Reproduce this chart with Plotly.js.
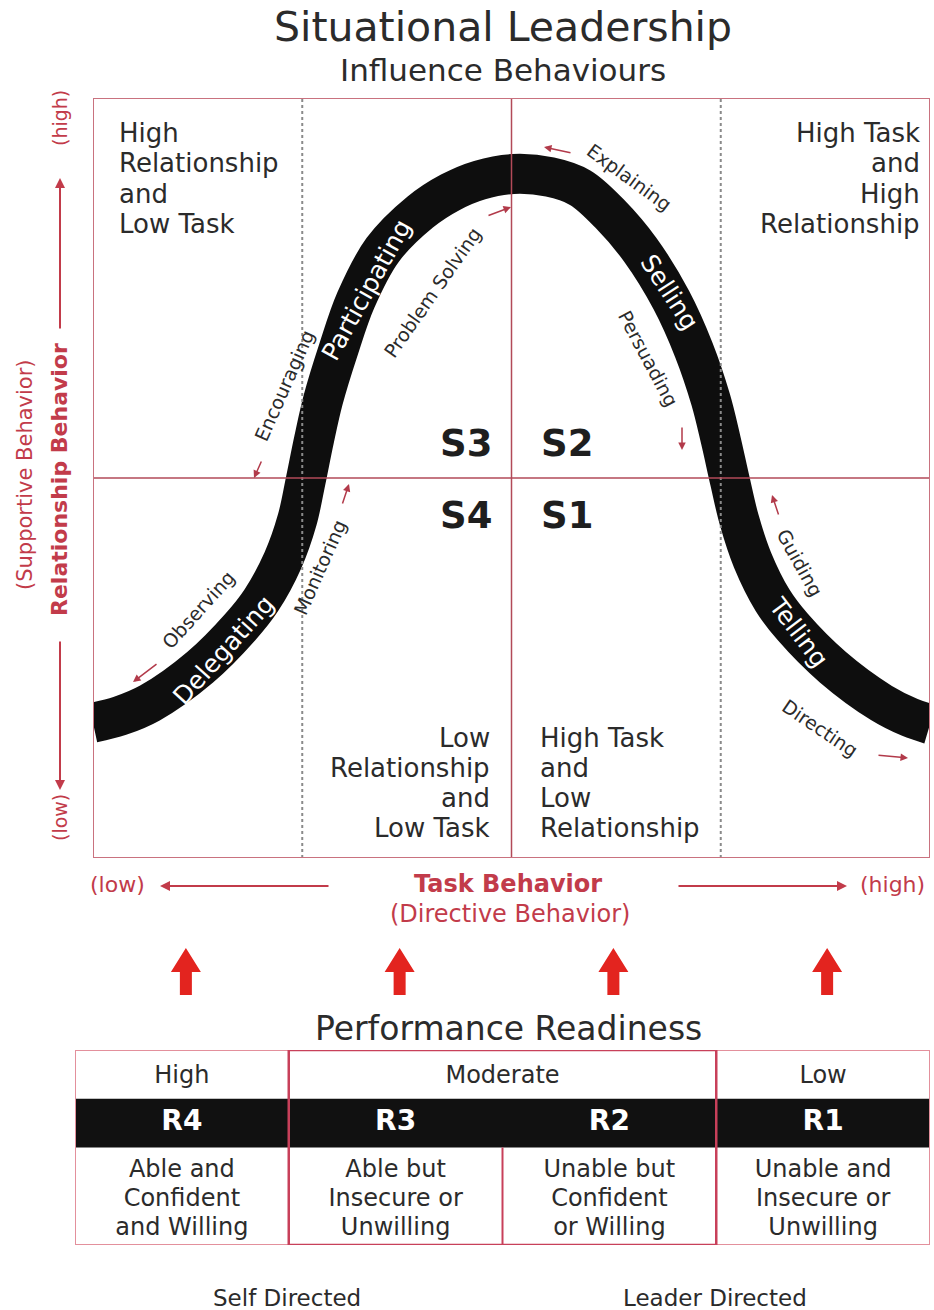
<!DOCTYPE html>
<html>
<head>
<meta charset="utf-8">
<script src="https://cdn.plot.ly/plotly-3.0.1.min.js"></script>
<style>html,body{margin:0;padding:0;background:#fff;}#chart{width:934px;height:1310px;}</style>
</head>
<body>
<div id="chart"></div>
<script>
// ---------------- DATA ----------------
// Curve of leadership style: task behavior (x, 0-100) vs relationship behavior (y, 0-100)
const taskBehavior = [0,3.2,6.8,12.8,17.6,20.1,22.7,24.4,25.4,26.4,27.5,29.3,31.4,34.6,39.1,42.7,46.2,50.2,
  54.6,58.2,61.8,65.4,69.1,71.8,73.8,75.0,76.1,77.2,78.8,81.2,83.6,88.4,94.2,97.6,100];
const relationshipBehavior = [17.8,18.7,20.4,25.1,30.4,33.9,39.2,44.5,49.6,55.0,60.3,66.8,73.4,80.0,85.0,87.6,89.2,90.0,
  89.6,88.2,84.7,80.0,73.4,66.8,60.3,55.0,49.6,44.5,39.2,33.9,30.4,25.1,20.4,18.5,17.6];

const styleCodes = ['S3','S2','S4','S1'];
const styleNames = ['Participating','Selling','Delegating','Telling'];
const behaviours = ['Encouraging','Problem Solving','Explaining','Persuading','Observing','Monitoring','Guiding','Directing'];

const quadTopLeft = ['High','Relationship','and','Low Task'];
const quadTopRight = ['High Task','and','High','Relationship'];
const quadBottomLeft = ['Low','Relationship','and','Low Task'];
const quadBottomRight = ['High Task','and','Low','Relationship'];

const readinessCodes = ['R4','R3','R2','R1'];
const readinessLevels = ['High','Moderate','Moderate','Low'];
const descLine1 = ['Able and','Able but','Unable but','Unable and'];
const descLine2 = ['Confident','Insecure or','Confident','Insecure or'];
const descLine3 = ['and Willing','Unwilling','or Willing','Unwilling'];
const directionLabels = ['Self Directed','Leader Directed'];

// ---------------- HELPERS ----------------
const W = 934, H = 1310;
const DARK = '#2b2b2b', RED = '#c23b4a', ARROWRED = '#b23a4a';
const FONT = 'DejaVu Sans, Arial, sans-serif';
function T(text, x, y, o) {
  o = o || {};
  return {text: o.bold ? '<b>' + text + '</b>' : text, x: x / W, y: 1 - y / H, xref: 'paper', yref: 'paper',
    showarrow: false, xanchor: o.xa || 'center', yanchor: 'middle', textangle: o.ang || 0,
    font: {family: FONT, size: o.size || 20, color: o.color || DARK}};
}
function A(tx, ty, sx, sy, color, w) {
  return {text: '', x: tx / W, y: 1 - ty / H, xref: 'paper', yref: 'paper', showarrow: true,
    ax: sx - tx, ay: sy - ty, arrowhead: 2, arrowsize: 1, arrowwidth: w || 1.5, arrowcolor: color || ARROWRED};
}

const annotations = [];
const shapes = [];

// Titles
annotations.push(T('Situational Leadership', 503, 27, {size: 41}));
annotations.push(T('Influence Behaviours', 503, 70, {size: 31}));

// Quadrant descriptions
const lineY1 = [133, 163, 194, 224], lineY2 = [738, 768, 798, 828];
quadTopLeft.forEach((t, i) => annotations.push(T(t, 117, lineY1[i], {size: 26, xa: 'left'})));
quadTopRight.forEach((t, i) => annotations.push(T(t, 922, lineY1[i], {size: 26, xa: 'right'})));
quadBottomLeft.forEach((t, i) => annotations.push(T(t, 492, lineY2[i], {size: 26, xa: 'right'})));
quadBottomRight.forEach((t, i) => annotations.push(T(t, 538, lineY2[i], {size: 26, xa: 'left'})));

// S codes
annotations.push(T(styleCodes[0], 494, 443, {size: 37, bold: true, xa: 'right', color: '#1e1e1e'}));
annotations.push(T(styleCodes[1], 539, 443, {size: 37, bold: true, xa: 'left', color: '#1e1e1e'}));
annotations.push(T(styleCodes[2], 494, 515, {size: 37, bold: true, xa: 'right', color: '#1e1e1e'}));
annotations.push(T(styleCodes[3], 539, 515, {size: 37, bold: true, xa: 'left', color: '#1e1e1e'}));

// Style names on the band
annotations.push(T(styleNames[0], 366, 290, {size: 25, ang: -61, color: '#ffffff'}));
annotations.push(T(styleNames[1], 670, 292, {size: 25, ang: 57, color: '#ffffff'}));
annotations.push(T(styleNames[2], 223, 650, {size: 25, ang: -48, color: '#ffffff'}));
annotations.push(T(styleNames[3], 799, 632, {size: 25, ang: 53, color: '#ffffff'}));

// Behaviour labels
annotations.push(T(behaviours[0], 284, 386, {size: 19, ang: -66}));
annotations.push(T(behaviours[1], 432, 293, {size: 19, ang: -55}));
annotations.push(T(behaviours[2], 629, 177, {size: 19, ang: 36}));
annotations.push(T(behaviours[3], 648, 358, {size: 19, ang: 62}));
annotations.push(T(behaviours[4], 198, 610, {size: 19, ang: -48}));
annotations.push(T(behaviours[5], 320, 567, {size: 19, ang: -66}));
annotations.push(T(behaviours[6], 800, 563, {size: 19, ang: 61}));
annotations.push(T(behaviours[7], 820, 728, {size: 19, ang: 34}));

// Small behaviour arrows
annotations.push(A(254, 478, 262, 460));
annotations.push(A(511, 207, 487, 216));
annotations.push(A(544, 147, 572, 153));
annotations.push(A(682, 450, 682, 426));
annotations.push(A(133, 682, 158, 663));
annotations.push(A(349, 484, 342, 505));
annotations.push(A(772, 495, 779, 516));
annotations.push(A(908, 758, 877, 755));

// Vertical axis labels
annotations.push(T('Relationship Behavior', 60, 480, {size: 22, bold: true, ang: -90, color: RED}));
annotations.push(T('(Supportive Behavior)', 25, 475, {size: 21, ang: -90, color: RED}));
annotations.push(T('(high)', 60, 118, {size: 19, ang: -90, color: RED}));
annotations.push(T('(low)', 60, 818, {size: 19, ang: -90, color: RED}));
annotations.push(A(60, 178, 60, 330, RED, 2));
annotations.push(A(60, 790, 60, 640, RED, 2));

// Horizontal axis labels
annotations.push(T('Task Behavior', 508, 884, {size: 24, bold: true, color: RED}));
annotations.push(T('(Directive Behavior)', 510, 914, {size: 24, color: RED}));
annotations.push(T('(low)', 117, 884, {size: 22, color: RED}));
annotations.push(T('(high)', 892, 884, {size: 22, color: RED}));
annotations.push(A(160, 886, 330, 886, RED, 2));
annotations.push(A(847, 886, 677, 886, RED, 2));

// Performance readiness
annotations.push(T('Performance Readiness', 508, 1028, {size: 33}));
annotations.push(T(directionLabels[0], 287, 1298, {size: 23}));
annotations.push(T(directionLabels[1], 715, 1298, {size: 23}));

// ---------------- SHAPES: main quadrant ----------------
const LINE = '#b24a58';
shapes.push({type: 'line', xref: 'x', yref: 'y', x0: 25, x1: 25, y0: 0, y1: 100, line: {color: '#8a8a8a', width: 2, dash: 'dot'}});
shapes.push({type: 'line', xref: 'x', yref: 'y', x0: 75, x1: 75, y0: 0, y1: 100, line: {color: '#8a8a8a', width: 2, dash: 'dot'}});
shapes.push({type: 'line', xref: 'x', yref: 'y', x0: 50, x1: 50, y0: 0, y1: 100, line: {color: LINE, width: 1.5}});
shapes.push({type: 'line', xref: 'x', yref: 'y', x0: 0, x1: 100, y0: 50, y1: 50, line: {color: LINE, width: 1.5}});
shapes.push({type: 'rect', xref: 'x', yref: 'y', x0: 0, x1: 100, y0: 0, y1: 100, line: {color: '#c9727f', width: 2}});

// ---------------- TABLE (x2 / y2) ----------------
const nCols = readinessCodes.length;
const colPx = (930 - 75) / nCols;
shapes.push({type: 'rect', xref: 'x2', yref: 'y2', x0: 0, x1: nCols, y0: 2, y1: 3, fillcolor: '#111111', line: {width: 0}, layer: 'below'});
shapes.push({type: 'rect', xref: 'x2', yref: 'y2', x0: 0, x1: nCols, y0: 0, y1: 4, line: {color: '#e3909c', width: 2}});
shapes.push({type: 'rect', xref: 'x2', yref: 'y2', x0: 1, x1: 3, y0: 0, y1: 4, line: {color: '#c8405a', width: 2.5}});
shapes.push({type: 'line', xref: 'x2', yref: 'y2', x0: 2, x1: 2, y0: 0, y1: 2, line: {color: '#c8405a', width: 2}});

// Big red arrows above each column
readinessCodes.forEach((c, i) => {
  const cx = i + 0.5 + 4 / colPx, hw = 15 / colPx, sw = 6 / colPx;
  const yt = 1 - 948 / H, yb = 1 - 972 / H, ys = 1 - 995 / H;
  shapes.push({type: 'path', xref: 'x2', yref: 'paper',
    path: `M${cx - sw},${ys} L${cx - sw},${yb} L${cx - hw},${yb} L${cx},${yt} L${cx + hw},${yb} L${cx + sw},${yb} L${cx + sw},${ys} Z`,
    fillcolor: '#e3241f', line: {width: 0}});
});

// Level header (merge consecutive equal levels)
const groups = [];
readinessLevels.forEach((lv, i) => {
  if (groups.length && groups[groups.length - 1].lv === lv) groups[groups.length - 1].end = i + 1;
  else groups.push({lv: lv, start: i, end: i + 1});
});
const colX = readinessCodes.map((c, i) => i + 0.5);

const traces = [
  {type: 'scatter', mode: 'lines', x: taskBehavior, y: relationshipBehavior, xaxis: 'x', yaxis: 'y',
   line: {color: '#0e0e0e', width: 40, shape: 'spline', smoothing: 1}, hoverinfo: 'skip'},
  {type: 'scatter', mode: 'text', x: groups.map(g => (g.start + g.end) / 2), y: groups.map(g => 3.45), text: groups.map(g => g.lv),
   xaxis: 'x2', yaxis: 'y2', textfont: {family: FONT, size: 24, color: DARK}, cliponaxis: false, hoverinfo: 'skip'},
  {type: 'scatter', mode: 'text', x: colX, y: colX.map(() => 2.5), text: readinessCodes.map(t => '<b>' + t + '</b>'),
   xaxis: 'x2', yaxis: 'y2', textfont: {family: FONT, size: 28, color: '#ffffff'}, cliponaxis: false, hoverinfo: 'skip'},
  {type: 'scatter', mode: 'text', x: colX, y: colX.map(() => 1.52), text: descLine1,
   xaxis: 'x2', yaxis: 'y2', textfont: {family: FONT, size: 24, color: DARK}, cliponaxis: false, hoverinfo: 'skip'},
  {type: 'scatter', mode: 'text', x: colX, y: colX.map(() => 0.92), text: descLine2,
   xaxis: 'x2', yaxis: 'y2', textfont: {family: FONT, size: 24, color: DARK}, cliponaxis: false, hoverinfo: 'skip'},
  {type: 'scatter', mode: 'text', x: colX, y: colX.map(() => 0.33), text: descLine3,
   xaxis: 'x2', yaxis: 'y2', textfont: {family: FONT, size: 24, color: DARK}, cliponaxis: false, hoverinfo: 'skip'}
];

const layout = {
  width: W, height: H, margin: {l: 0, r: 0, t: 0, b: 0},
  paper_bgcolor: '#ffffff', plot_bgcolor: 'rgba(0,0,0,0)', showlegend: false,
  xaxis: {domain: [93 / W, 930 / W], range: [0, 100], visible: false, fixedrange: true},
  yaxis: {domain: [1 - 858 / H, 1 - 98 / H], range: [0, 100], visible: false, fixedrange: true},
  xaxis2: {domain: [75 / W, 930 / W], range: [0, nCols], visible: false, anchor: 'y2', fixedrange: true},
  yaxis2: {domain: [1 - 1245 / H, 1 - 1050 / H], range: [0, 4], visible: false, anchor: 'x2', fixedrange: true},
  annotations: annotations, shapes: shapes
};

Plotly.newPlot('chart', traces, layout, {staticPlot: true, displayModeBar: false});
</script>
</body>
</html>
